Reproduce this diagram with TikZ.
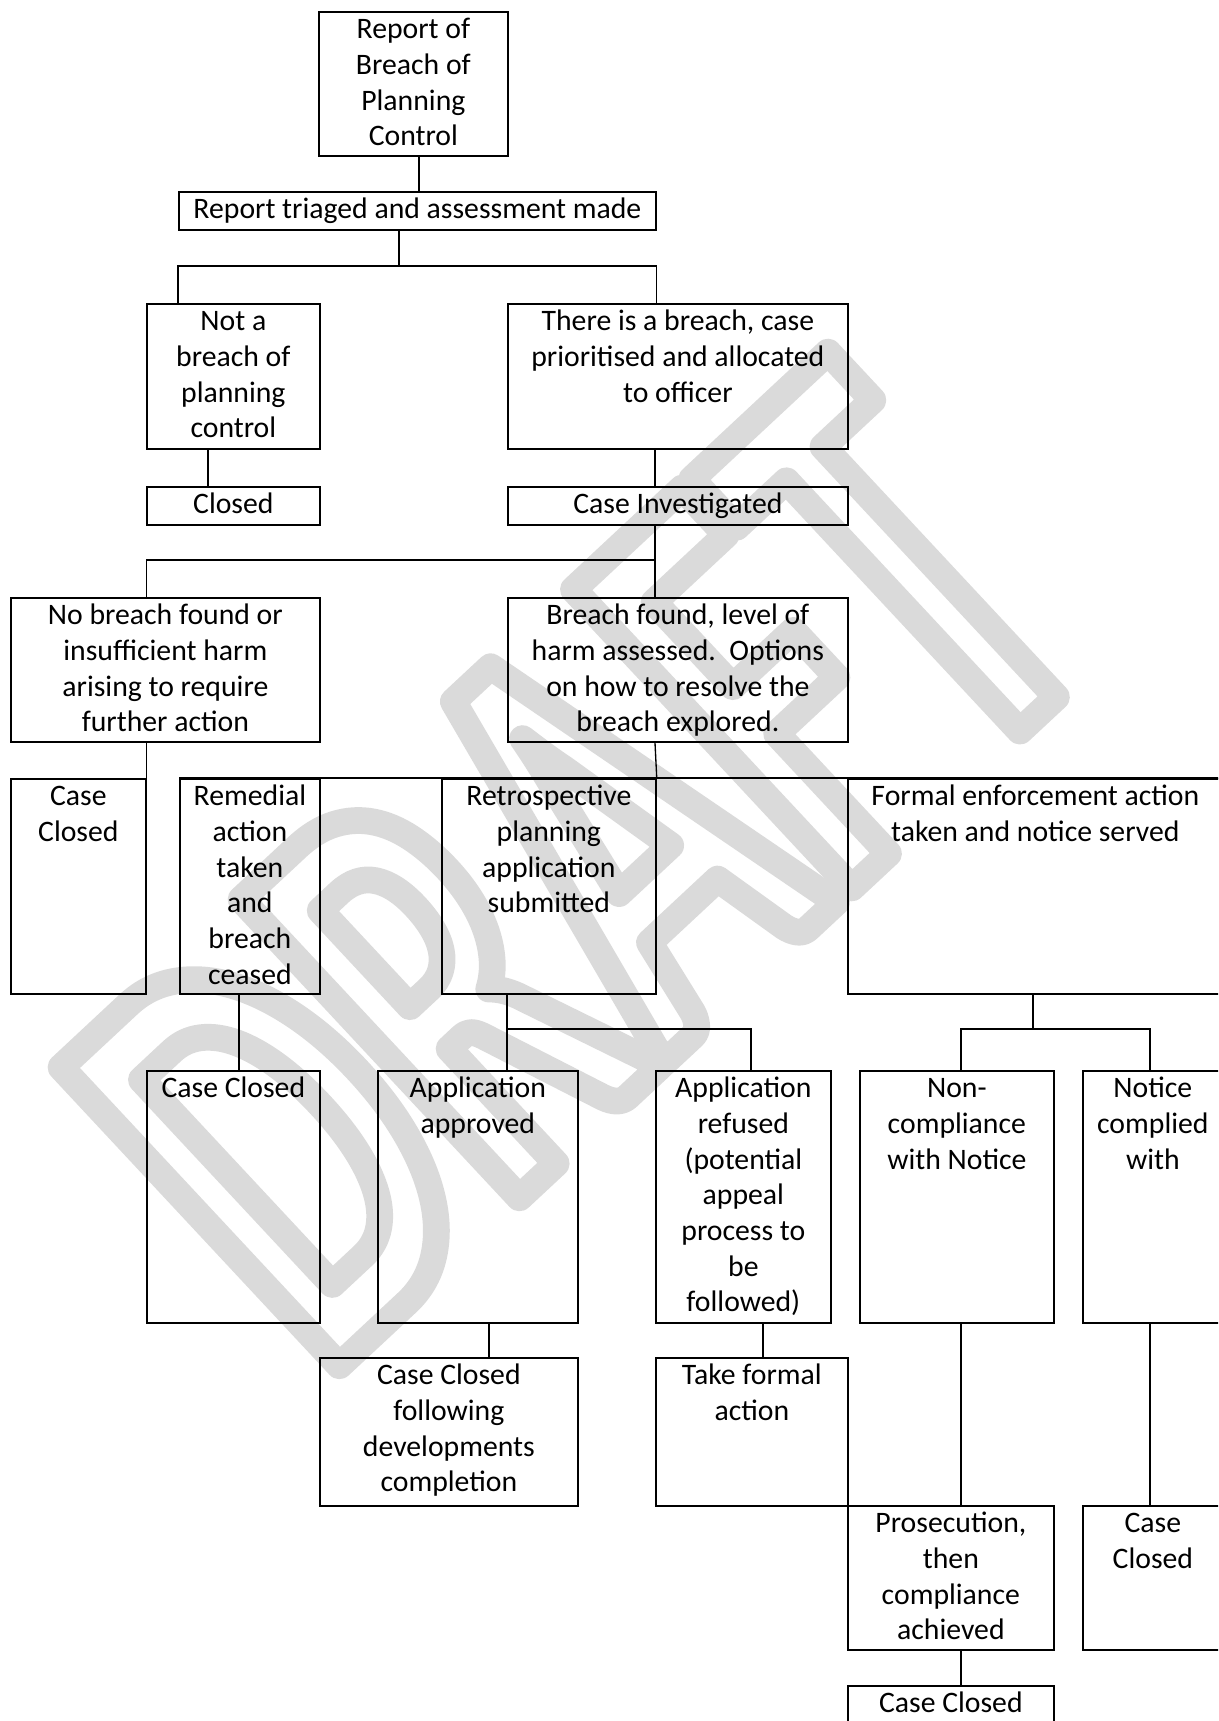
\documentclass[tikz,border=0pt]{standalone}
\usepackage{fontspec}
\setmainfont{Carlito}
\newfontfamily\draftfont{Carlito}[FakeStretch=0.62, UprightFont=*-Bold]
\definecolor{draftgray}{RGB}{218,218,218}
\newdimen\pxu \pxu=0.75pt
% box text: width, height (in px), lines
\newcommand{\stagetext}[3]{\parbox[b][#2\pxu][t]{#1\pxu}{\centering\rule{0pt}{20pt}#3\par}}
\newcommand{\outlined}[1]{\special{pdf:literal direct 1 Tr 20 w 1 j 1 J}#1\special{pdf:literal direct 0 Tr}}
\tikzset{
  stage/.style={draw, line width=1.3pt, inner sep=0pt, anchor=north west},
  link/.style={line width=1pt},
}
\begin{document}
\begin{tikzpicture}[x=0.75pt, y=-0.75pt, font=\fontsize{22.3pt}{26.8pt}\selectfont]
\useasboundingbox (0,0) rectangle (1218,1721);
\clip (0,0) rectangle (1218,1721);
% watermark
\node[rotate=43, anchor=base west, inner sep=0pt, text=draftgray,
      font=\draftfont\fontsize{472pt}{472pt}\selectfont] (draft) at (323,1381) {\outlined{DRAFT}};
% boxes
\node[stage] (report) at (318,11) {\stagetext{189}{144}{Report of\\Breach of\\Planning\\Control}};
\node[stage] (triage) at (178,191) {\stagetext{477}{38}{Report triaged and assessment made}};
\node[stage] (notbreach) at (146,303) {\stagetext{173}{145}{Not a\\breach of\\planning\\control}};
\node[stage] (isbreach) at (507,303) {\stagetext{340}{145}{There is a breach, case\\prioritised and allocated\\to officer}};
\node[stage] (closed) at (146,486) {\stagetext{173}{38}{Closed}};
\node[stage] (investigated) at (507,486) {\stagetext{340}{38}{Case Investigated}};
\node[stage] (nobreach) at (10,597) {\stagetext{309}{144}{No breach found or\\insufficient harm\\arising to require\\further action}};
\node[stage] (found) at (507,597) {\stagetext{340}{144}{Breach found, level of\\harm assessed.\ \ Options\\on how to resolve the\\breach explored.}};
\node[stage] (caseclosedA) at (10,778) {\stagetext{135}{215}{Case\\Closed}};
\node[stage] (remedial) at (179,778) {\stagetext{140}{215}{Remedial\\action\\taken\\and\\breach\\ceased}};
\node[stage] (retro) at (441,778) {\stagetext{214}{215}{Retrospective\\planning\\application\\submitted}};
\node[stage] (formal) at (847,778) {\stagetext{375}{215}{Formal enforcement action\\taken and notice served}};
\node[stage] (caseclosedB) at (146,1070) {\stagetext{173}{252}{Case Closed}};
\node[stage] (approved) at (377,1070) {\stagetext{200}{252}{Application\\approved}};
\node[stage] (refused) at (655,1070) {\stagetext{175}{252}{Application\\refused\\(potential\\appeal\\process to\\be\\followed)}};
\node[stage] (noncomp) at (859,1070) {\stagetext{194}{252}{Non-\\compliance\\with Notice}};
\node[stage] (complied) at (1082,1070) {\stagetext{140}{252}{Notice\\complied\\with}};
\node[stage] (caseclosedC) at (319,1357) {\stagetext{258}{148}{Case Closed\\following\\developments\\completion}};
\node[stage] (takeformal) at (655,1357) {\stagetext{192}{148}{Take formal\\action}};
\node[stage] (prosecution) at (847,1505) {\stagetext{206}{144}{Prosecution,\\then\\compliance\\achieved}};
\node[stage] (caseclosedD) at (1082,1505) {\stagetext{140}{144}{Case\\Closed}};
\node[stage] (caseclosedE) at (847,1685) {\stagetext{206}{50}{Case Closed}};
% junctions and line positions
\coordinate (j1) at (399,266);
\coordinate (j2) at (655,560);
\coordinate (j3) at (507,1029);
\coordinate (j4) at (751,1029);
\coordinate (j5) at (1033,1029);
\coordinate (j6) at (961,1029);
\coordinate (j7) at (1150,1029);
\coordinate (xa) at (419,0);
\coordinate (xb) at (208,0);
\coordinate (xc) at (239,0);
\coordinate (xd) at (489,0);
\coordinate (xe) at (763,0);
% connectors
\draw[link] (report.south -| xa) -- (triage.north -| xa);
\draw[link] (triage.south -| j1) -- (j1);
\draw[link] (notbreach.north -| triage.west) |- (j1) -| (isbreach.north -| triage.east);
\draw[link] (notbreach.south -| xb) -- (closed.north -| xb);
\draw[link] (isbreach.south -| j2) -- (investigated.north -| j2);
\draw[link] (investigated.south -| j2) -- (j2) -| (nobreach.north -| caseclosedA.east);
\draw[link] (j2) -- (found.north -| j2);
\draw[link] (nobreach.south -| caseclosedA.east) -- (caseclosedA.north east);
\draw[link] (found.south -| j2) -- (retro.north east);
\draw[link] (remedial.north west) -- (formal.north east);
\draw[link] (remedial.south -| xc) -- (caseclosedB.north -| xc);
\draw[link] (retro.south -| j3) -- (approved.north -| j3);
\draw[link] (j3) -- (j4) -- (refused.north -| j4);
\draw[link] (formal.south -| j5) -- (j5);
\draw[link] (noncomp.north -| j6) |- (j5) -| (complied.north -| j7);
\draw[link] (approved.south -| xd) -- (caseclosedC.north -| xd);
\draw[link] (refused.south -| xe) -- (takeformal.north -| xe);
\draw[link] (noncomp.south -| j6) -- (prosecution.north -| j6);
\draw[link] (complied.south -| j7) -- (caseclosedD.north -| j7);
\draw[link] (prosecution.south -| j6) -- (caseclosedE.north -| j6);
\end{tikzpicture}
\end{document}
